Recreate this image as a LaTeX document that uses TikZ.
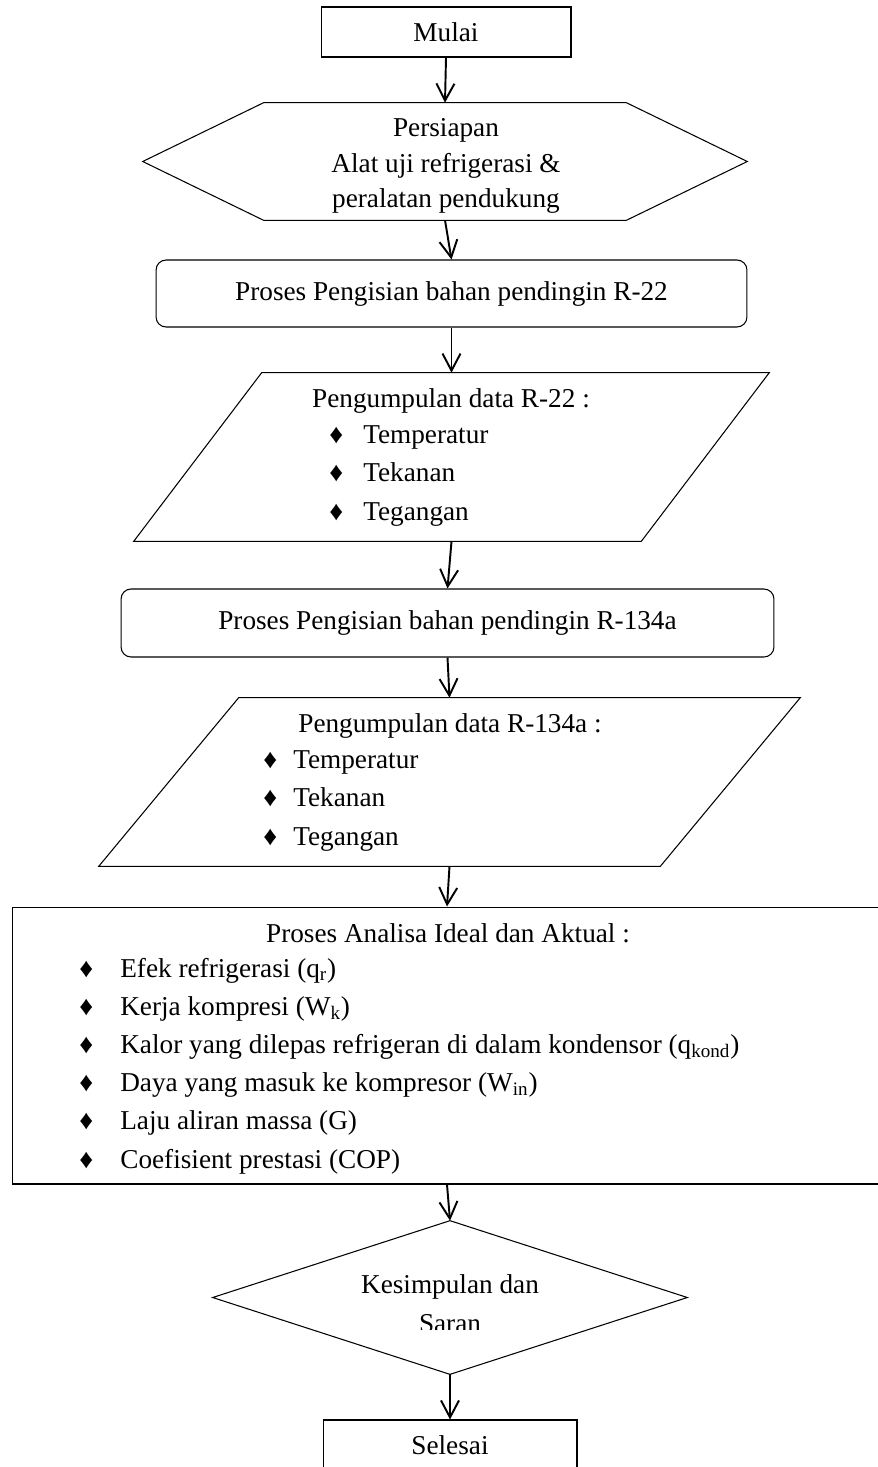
\documentclass[tikz,border=0pt]{standalone}
\usepackage{fontspec}
\setmainfont{Liberation Serif}
\usetikzlibrary{arrows.meta}
\newcommand{\butir}[1]{\makebox[#1][l]{\char"2666}}
\newcommand{\isifont}{\fontsize{15.5}{20}\selectfont}

\begin{document}
\begin{tikzpicture}[x=0.02cm,y=-0.02cm,
	kotak/.style={draw,line width=0.6pt,inner sep=0pt,font=\isifont,align=center},
	bentuk/.style={inner sep=0pt,font=\isifont,align=center},
	teks/.style={inner sep=0pt,font=\isifont},
	panah/.style={-{Straight Barb[length=3.4mm,width=3.6mm]},line width=1.1pt},
	garis/.style={line width=0.6pt}]
		\useasboundingbox (0,0) rectangle (877,1467);
		% mulai
		\node[kotak,minimum width=5cm,minimum height=1cm] (mulai) at (446,32) {Mulai};
		% persiapan
		\node[bentuk,minimum width=12.08cm,minimum height=2.34cm] (siap) at (445,161.5) {};
		\draw[garis] (siap.west) -- ([xshift=2.42cm]siap.north west) -- ([xshift=-2.42cm]siap.north east) -- (siap.east) -- ([xshift=-2.42cm]siap.south east) -- ([xshift=2.42cm]siap.south west) -- cycle;
		\node[bentuk] (siapteks) at (446,166) {Persiapan\\Alat uji refrigerasi \&\\peralatan pendukung};
		% pengisian R-22
		\node[kotak,rounded corners=0.2cm,minimum width=11.82cm,minimum height=1.34cm] (isi1) at (451.5,293.5) {Proses Pengisian bahan pendingin R-22};
		% data R-22
		\node[bentuk,minimum width=12.7cm,minimum height=3.36cm] (data1) at (451.5,457) {};
		\draw[garis] ([xshift=2.56cm]data1.north west) -- (data1.north east) -- ([xshift=-2.56cm]data1.south east) -- (data1.south west) -- cycle;
		\node[teks,anchor=base] (judul1) at (451,407) {Pengumpulan data R-22 :};
		\foreach \t [count=\i] in {Temperatur,Tekanan,Tegangan}
			\node[teks,anchor=base west] (butir1-\i) at (329,{443+38.5*(\i-1)}) {\butir{0.68cm}\t};
		% pengisian R-134a
		\node[kotak,rounded corners=0.2cm,minimum width=13.06cm,minimum height=1.36cm] (isi2) at (447.5,623) {Proses Pengisian bahan pendingin R-134a};
		% data R-134a
		\node[bentuk,minimum width=14.02cm,minimum height=3.36cm] (data2) at (449.5,782) {};
		\draw[garis] ([xshift=2.8cm]data2.north west) -- (data2.north east) -- ([xshift=-2.8cm]data2.south east) -- (data2.south west) -- cycle;
		\node[teks,anchor=base] (judul2) at (450,732) {Pengumpulan data R-134a :};
		\foreach \t [count=\i] in {Temperatur,Tekanan,Tegangan}
			\node[teks,anchor=base west] (butir2-\i) at (263,{768+38.5*(\i-1)}) {\butir{0.6cm}\t};
		% analisa
		\node[kotak,minimum width=17.4cm,minimum height=5.54cm] (analisa) at (447,1045.5) {};
		\node[teks,anchor=base] (judul3) at (448,942) {Proses Analisa Ideal dan Aktual :};
		\foreach \t [count=\i] in {Efek refrigerasi (q\textsubscript{r}),Kerja kompresi (W\textsubscript{k}),Kalor yang dilepas refrigeran di dalam kondensor (q\textsubscript{kond}),Daya yang masuk ke kompresor (W\textsubscript{in}),Laju aliran massa (G),Coefisient prestasi (COP)}
			\node[teks,anchor=base west] (butir3-\i) at (79,{977+38.2*(\i-1)}) {\butir{0.82cm}\t};
		% kesimpulan
		\node[bentuk,minimum width=9.48cm,minimum height=3.06cm] (simpul) at (450,1297.5) {};
		\draw[garis] (simpul.north) -- (simpul.east) -- (simpul.south) -- (simpul.west) -- cycle;
		\begin{scope}
			\clip (200,1200) rectangle (700,1329);
			\node[teks,anchor=base] (simpul1) at (450,1293) {Kesimpulan dan};
			\node[teks,anchor=base] (simpul2) at (450,1332) {Saran};
		\end{scope}
		% selesai
		\node[kotak,minimum width=5.08cm,minimum height=1cm] (selesai) at (450,1445) {Selesai};
		% panah
		\foreach \a/\b in {mulai/siap,siap/isi1,isi1/data1,data1/isi2,isi2/data2,data2/analisa,analisa/simpul,simpul/selesai}
			\draw[panah] (\a.south) -- (\b.north);
	\end{tikzpicture}
\end{document}
